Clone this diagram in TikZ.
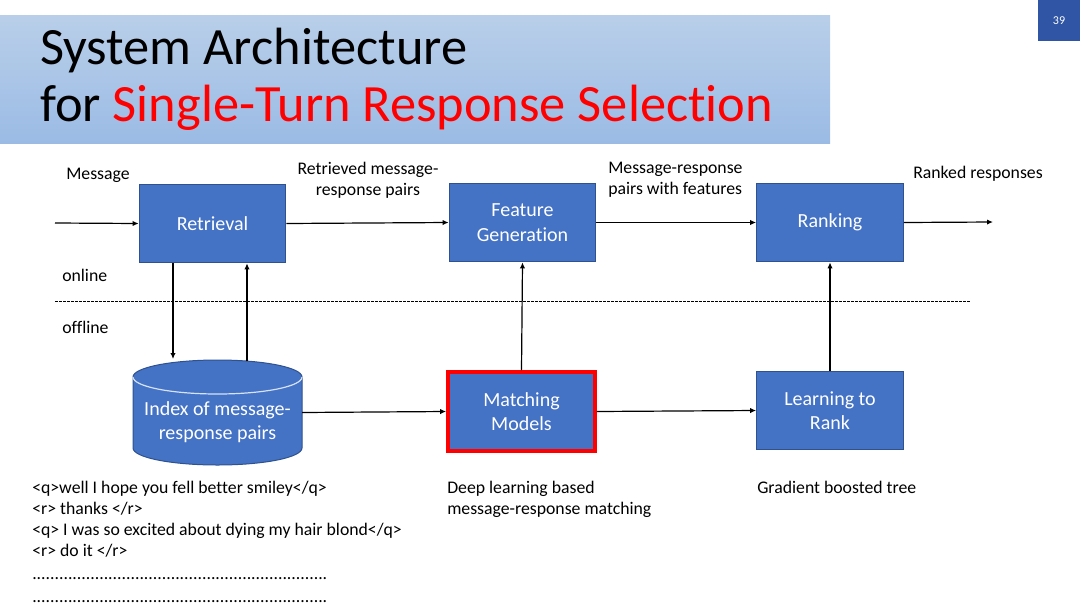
\documentclass[tikz,border=0pt]{standalone}
\usepackage{fontspec}
\setmainfont{Carlito}[Ligatures=NoCommon]
\usetikzlibrary{arrows.meta}
\definecolor{boxfill}{HTML}{4472C4}
\definecolor{boxedge}{HTML}{2F528F}
\definecolor{bannertop}{HTML}{B9CFE9}
\definecolor{bannerbot}{HTML}{9BBBE5}
\definecolor{pagefill}{HTML}{2F55A4}
\definecolor{titlered}{HTML}{FF0000}
\definecolor{dbline}{HTML}{D6E2F5}
\tikzset{%
    >={Latex[length=4.5pt,width=4pt]},
    block/.style={draw=boxedge, line width=0.75pt, fill=boxfill, text=white,
        align=center, minimum width=110pt, minimum height=59pt, inner sep=0pt,
        font=\fontsize{15}{18.3}\selectfont},
    caption/.style={inner sep=0pt, align=left, font=\fontsize{13.3}{15.75}\selectfont},
    flow/.style={->, line width=0.9pt}
}

\begin{document}
\begin{tikzpicture}[x=0.75pt,y=-0.75pt]
        \useasboundingbox (0,0) rectangle (1080,607);

        % title banner
        \shade[top color=bannertop, bottom color=bannerbot] (0,15) rectangle (830,143);
        \node[anchor=base west, inner sep=0pt, font=\fontsize{39.3}{43}\selectfont] (title1) at (40,64) {System Architecture};
        \node[anchor=base west, inner sep=0pt, font=\fontsize{39.3}{43}\selectfont] (title2) at (40,121) {for \textcolor{titlered}{Single-Turn Response Selection}};
        \node[fill=pagefill, text=white, minimum width=31.5pt, minimum height=31pt, inner sep=0pt,
            font=\fontsize{9}{10}\selectfont] (pnum) at (1059,20.5) {39};

        % online part
        \node[block] (retr) at (212.5,223.5) {Retrieval};
        \node[block] (feat) at (522.5,222.5) {Feature\\Generation};
        \node[block] (rank) at (830,222.5) {Ranking};

        % offline part
        \draw[draw=boxedge, line width=0.75pt, fill=boxfill] (133,377) -- (133,448) arc (180:0:84.5 and 17) -- (302,377) arc (0:-180:84.5 and 17) -- cycle;
        \draw[dbline, line width=0.9pt] (133,377) arc (180:0:84.5 and 17);
        \node[text=white, align=center, inner sep=0pt, minimum width=126.75pt, minimum height=70pt,
            font=\fontsize{15}{18.3}\selectfont] (idx) at (217.5,422) {Index of message-\\response pairs};
        \node[block, draw=titlered, line width=3pt] (match) at (521.5,411.5) {Matching\\Models};
        \node[block] (ltr) at (830,410.5) {Learning to\\Rank};

        \coordinate (msgin) at (55,223);
        \coordinate (out) at (993,222);
        \coordinate (dbin) at (173,359);
        \coordinate (dbout) at (247,361);
        \coordinate (idxout) at (302,412.5);

        \draw[flow] (msgin) -- (retr.west);
        \draw[flow] (retr.east) -- (feat.west);
        \draw[flow] (feat.east) -- (rank.west);
        \draw[flow] (rank.east) -- (out);
        \draw[flow] (retr.south -| dbin) -- (dbin);
        \draw[flow] (dbout) -- (retr.south -| dbout);
        \draw[flow] (idxout) -- (match.west);
        \draw[flow] (match.north) -- (feat.south);
        \draw[flow] (match.east) -- (ltr.west);
        \draw[flow] (ltr.north) -- (rank.south);

        \draw[line width=0.6pt, dash pattern=on 2pt off 1pt] (55,301) -- (970,301);

        % labels
        \node[caption, anchor=west] (lmsg) at (66,175) {Message};
        \node[caption, align=center] (lretr) at (368,180) {Retrieved message-\\response pairs};
        \node[caption, anchor=west] (lfeat) at (608,180) {Message-response\\pairs with features};
        \node[caption, anchor=west] (lrank) at (913,174) {Ranked responses};
        \node[caption, anchor=west] (lon) at (62,275) {online};
        \node[caption, anchor=west] (loff) at (62,327) {offline};

        \node[caption, anchor=north west] (sample) at (32,481) {<q>well I hope you fell better smiley</q>\\
            <r> thanks </r>\\
            <q> I was so excited about dying my hair blond</q>\\
            <r> do it </r>\\[1.5pt]
            \makebox[222pt][l]{\leaders\hbox{.}\hfill}\\[1.5pt]
            \makebox[222pt][l]{\leaders\hbox{.}\hfill}};
        \node[caption, anchor=north west] (ldeep) at (447,481) {Deep learning based\\message-response matching};
        \node[caption, anchor=north west] (lgbt) at (757,481) {Gradient boosted tree};
\end{tikzpicture}
\end{document}
